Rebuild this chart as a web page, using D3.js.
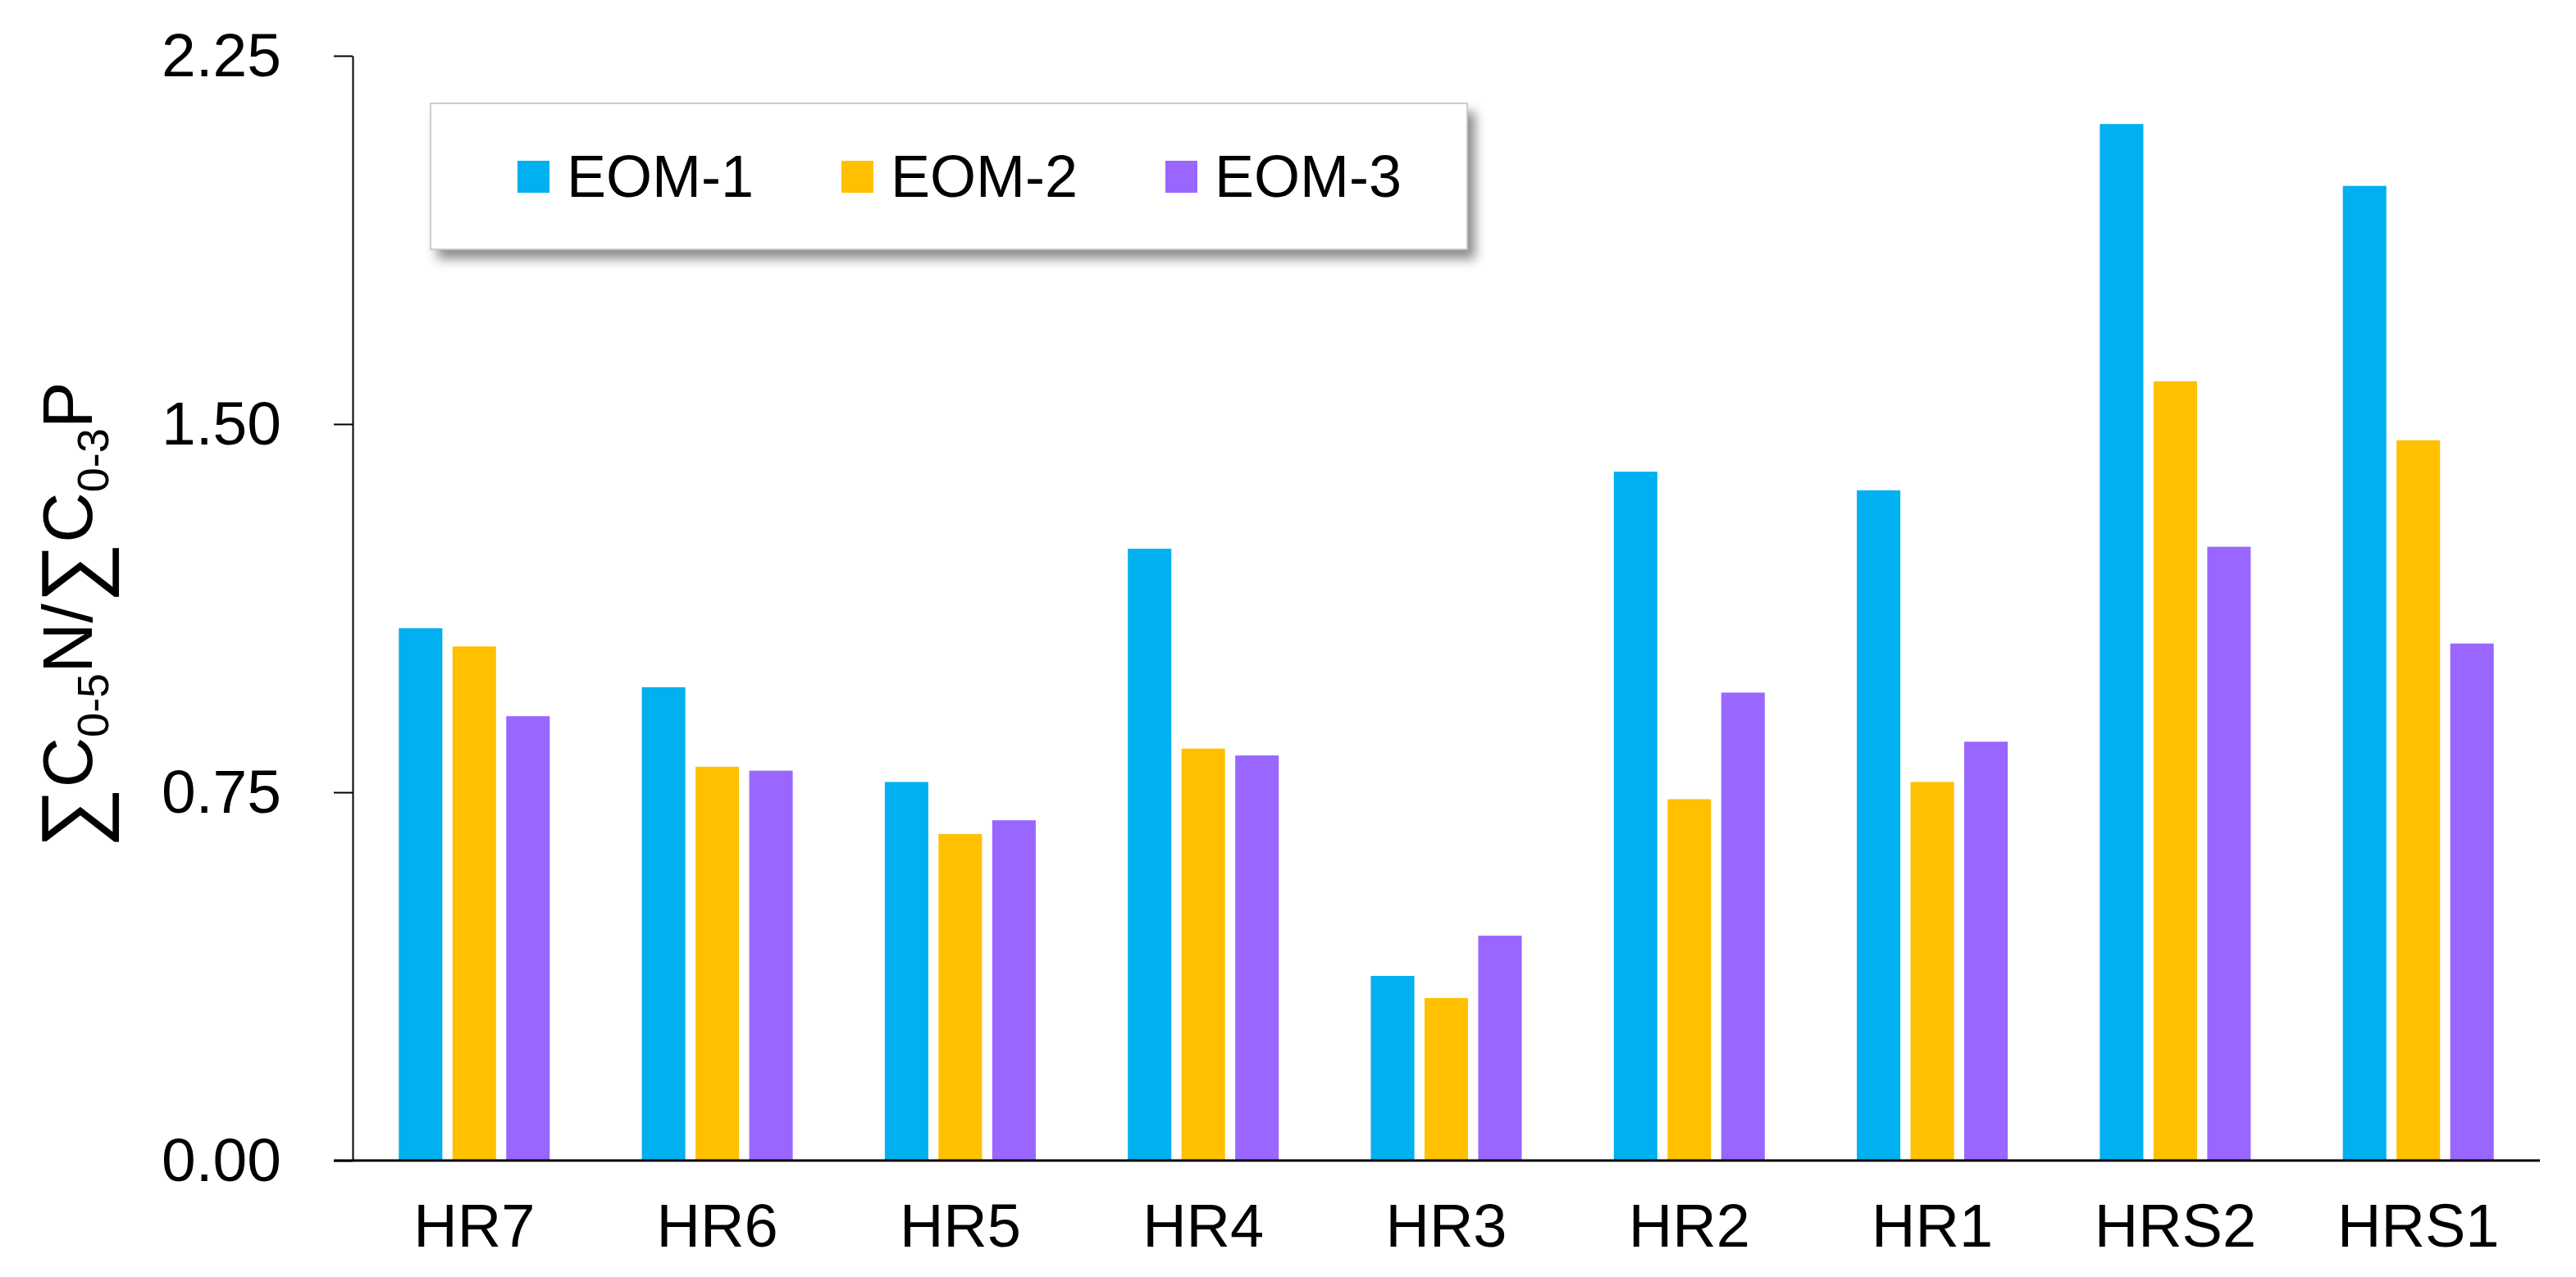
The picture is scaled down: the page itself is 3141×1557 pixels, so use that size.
<!DOCTYPE html>
<html>
<head>
<meta charset="utf-8">
<script src="https://cdn.jsdelivr.net/npm/d3@7"></script>
<style>
  html, body { margin: 0; padding: 0; background: #fff; }
  svg { display: block; font-family: "Liberation Sans", Arial, sans-serif; }
</style>
</head>
<body>
<svg id="chart" width="3141" height="1557"></svg>
<script>
const categories = ["HR7", "HR6", "HR5", "HR4", "HR3", "HR2", "HR1", "HRS2", "HRS1"];
const seriesNames = ["EOM-1", "EOM-2", "EOM-3"];
const eom1 = [1.084, 0.964, 0.771, 1.246, 0.376, 1.403, 1.365, 2.111, 1.985];
const eom2 = [1.047, 0.802, 0.665, 0.839, 0.331, 0.736, 0.771, 1.587, 1.467];
const eom3 = [0.905, 0.794, 0.693, 0.825, 0.458, 0.953, 0.853, 1.250, 1.053];
const seriesColors = ["#00B0F0", "#FFC000", "#9966FF"];
const yTicks = [0, 0.75, 1.5, 2.25];

(function () {
const seriesValues = [eom1, eom2, eom3];
const rows = categories.map((c, i) => ({
  cat: c,
  vals: seriesNames.map((s, j) => ({ series: s, value: seriesValues[j][i], color: seriesColors[j] }))
}));

const svg = d3.select("#chart");
const mLeft = 430, mRight = 3097, mTop = 68, mBottom = 1415;

const x0 = d3.scaleBand().domain(categories).range([mLeft, mRight]).paddingInner(0.379).paddingOuter(0.19);
const x1 = d3.scaleBand().domain(seriesNames).range([0, x0.bandwidth()]).paddingInner(0.19).paddingOuter(0);
const y = d3.scaleLinear().domain([0, 2.25]).range([mBottom, mTop]);

// bars
const g = svg.append("g");
g.selectAll("g.cat").data(rows).join("g")
  .attr("class", "cat")
  .attr("transform", d => `translate(${x0(d.cat)},0)`)
  .selectAll("rect").data(d => d.vals).join("rect")
  .attr("x", d => x1(d.series))
  .attr("width", x1.bandwidth())
  .attr("y", d => y(d.value))
  .attr("height", d => y(0) - y(d.value))
  .attr("fill", d => d.color);

// y axis
const yAxis = svg.append("g")
  .attr("transform", `translate(${mLeft},0)`)
  .call(d3.axisLeft(y).tickValues(yTicks).tickFormat(d3.format(".2f")).tickSize(23).tickSizeOuter(0).tickPadding(64));
yAxis.select(".domain").attr("stroke", "#000").attr("stroke-width", 2);
yAxis.selectAll(".tick line").attr("stroke", "#000").attr("stroke-width", 2);
yAxis.selectAll(".tick text").attr("font-size", 75).attr("fill", "#000").attr("dy", "0.32em")
  .attr("font-family", "'Liberation Sans', Arial, sans-serif");

// x axis
const xAxis = svg.append("g")
  .attr("transform", `translate(0,${mBottom})`)
  .call(d3.axisBottom(x0).tickSize(0).tickPadding(52));
xAxis.select(".domain").remove();
xAxis.selectAll(".tick text").attr("font-size", 74).attr("fill", "#000")
  .attr("font-family", "'Liberation Sans', Arial, sans-serif");
svg.append("line")
  .attr("x1", mLeft - 23).attr("x2", mRight)
  .attr("y1", y(0)).attr("y2", y(0))
  .attr("stroke", "#000").attr("stroke-width", 3);

// y title
const title = svg.append("text")
  .attr("transform", `translate(112,750) rotate(-90)`)
  .attr("text-anchor", "middle")
  .attr("font-size", 85)
  .attr("fill", "#000");
title.append("tspan").attr("font-size", 104).attr("dy", 11).text("∑");
title.append("tspan").attr("dy", -11).text("C");
title.append("tspan").attr("font-size", 54).attr("dy", 20).text("0-5");
title.append("tspan").attr("dy", -20).text("N/");
title.append("tspan").attr("font-size", 104).attr("dy", 11).text("∑");
title.append("tspan").attr("dy", -11).text("C");
title.append("tspan").attr("font-size", 54).attr("dy", 20).text("0-3");
title.append("tspan").attr("dy", -20).text("P");

// legend
const defs = svg.append("defs");
const f = defs.append("filter").attr("id", "shadow").attr("x", "-10%").attr("y", "-20%").attr("width", "130%").attr("height", "160%");
f.append("feDropShadow").attr("dx", 9).attr("dy", 11).attr("stdDeviation", 7)
  .attr("flood-color", "#000").attr("flood-opacity", 0.45);

const legend = svg.append("g").attr("transform", "translate(525,126)");
legend.append("rect")
  .attr("width", 1264).attr("height", 178)
  .attr("fill", "#fff").attr("stroke", "#bfbfbf").attr("stroke-width", 1.5)
  .attr("filter", "url(#shadow)");
const items = legend.selectAll("g.item").data(seriesNames).join("g")
  .attr("class", "item")
  .attr("transform", (d, i) => `translate(${106 + i * 395},0)`);
items.append("rect")
  .attr("y", 70).attr("width", 39).attr("height", 39)
  .attr("fill", (d, i) => seriesColors[i]);
items.append("text")
  .attr("x", 60).attr("y", 114)
  .attr("font-size", 72).attr("fill", "#000")
  .text(d => d);
})();
</script>
</body>
</html>
